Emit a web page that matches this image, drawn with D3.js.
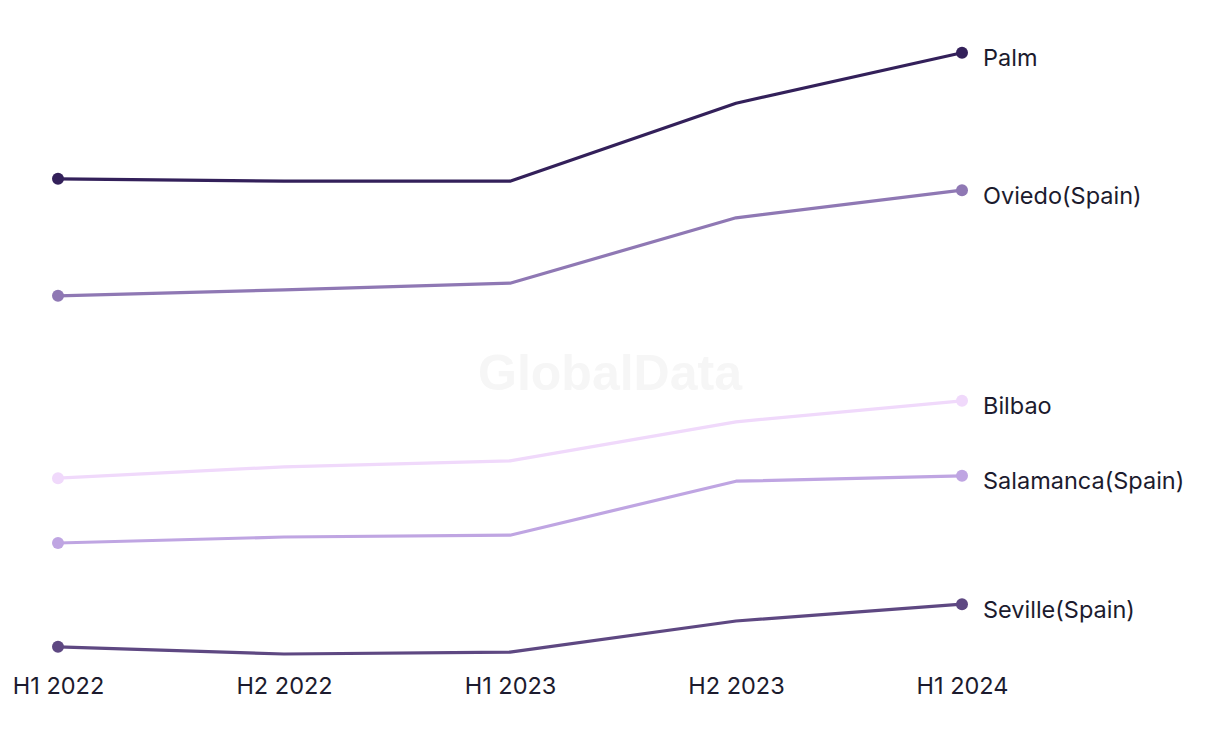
<!DOCTYPE html>
<html>
<head>
<meta charset="utf-8">
<script src="https://cdn.jsdelivr.net/npm/d3@7"></script>
<style>
  html, body { margin: 0; padding: 0; background: #fff; }
  svg { display: block; }
  text { font-family: Inter, "Noto Sans", sans-serif; }
</style>
</head>
<body>
<svg id="chart" width="1220" height="744"></svg>
<script>
const periods = ["H1 2022", "H2 2022", "H1 2023", "H2 2023", "H1 2024"];
const seriesNames = ["Palm", "Oviedo(Spain)", "Bilbao", "Salamanca(Spain)", "Seville(Spain)"];
const palmValues = [80.2, 79.8, 79.8, 92.8, 101.2];
const oviedoValues = [60.7, 61.7, 62.8, 73.7, 78.3];
const bilbaoValues = [30.3, 32.2, 33.2, 39.7, 43.2];
const salamancaValues = [19.5, 20.5, 20.8, 29.8, 30.7];
const sevilleValues = [2.2, 1.0, 1.3, 6.5, 9.3];
const seriesColors = ["#33205a", "#8f78b4", "#f0d9fb", "#bfa5e2", "#5e4882"];

const series = seriesNames.map((name, i) => ({
  name,
  values: [palmValues, oviedoValues, bilbaoValues, salamancaValues, sevilleValues][i],
  color: seriesColors[i]
}));

const svg = d3.select("#chart");

const x = d3.scalePoint().domain(periods).range([58, 962]);
const y = d3.scaleLinear().domain([0, 100]).range([660, 60]);

// watermark
svg.append("text")
  .attr("x", 610).attr("y", 390)
  .attr("text-anchor", "middle")
  .attr("font-size", 50)
  .attr("font-weight", 700)
  .attr("fill", "#f6f6f6")
  .style("font-family", "Arial, 'Liberation Sans', sans-serif")
  .text("GlobalData");

const line = d3.line()
  .x((d, i) => x(periods[i]))
  .y(d => y(d));

const g = svg.append("g");

series.forEach(s => {
  g.append("path")
    .datum(s.values)
    .attr("d", line)
    .attr("fill", "none")
    .attr("stroke", s.color)
    .attr("stroke-width", 3.2)
    .attr("stroke-linejoin", "round");
  const ends = [0, s.values.length - 1];
  g.selectAll(null).data(ends).enter().append("circle")
    .attr("cx", i => x(periods[i]))
    .attr("cy", i => y(s.values[i]))
    .attr("r", 6)
    .attr("fill", s.color);
  const last = s.values.length - 1;
  g.append("text")
    .attr("x", x(periods[last]) + 21)
    .attr("y", y(s.values[last]) + 5)
    .attr("dy", "0.36em")
    .attr("font-size", 23.5)
    .attr("fill", "#1c1b2e")
    .text(s.name);
});

// x axis labels
const xAxis = d3.axisBottom(x).tickSize(0).tickPadding(0);
const ax = svg.append("g").attr("transform", "translate(0,686)").call(xAxis);
ax.select(".domain").remove();
ax.selectAll("text")
  .attr("font-size", 23.5)
  .attr("fill", "#1c1b2e")
  .style("font-family", "Inter, 'Noto Sans', sans-serif")
  .attr("dy", "0.36em")
  .attr("y", 0);
</script>
</body>
</html>
